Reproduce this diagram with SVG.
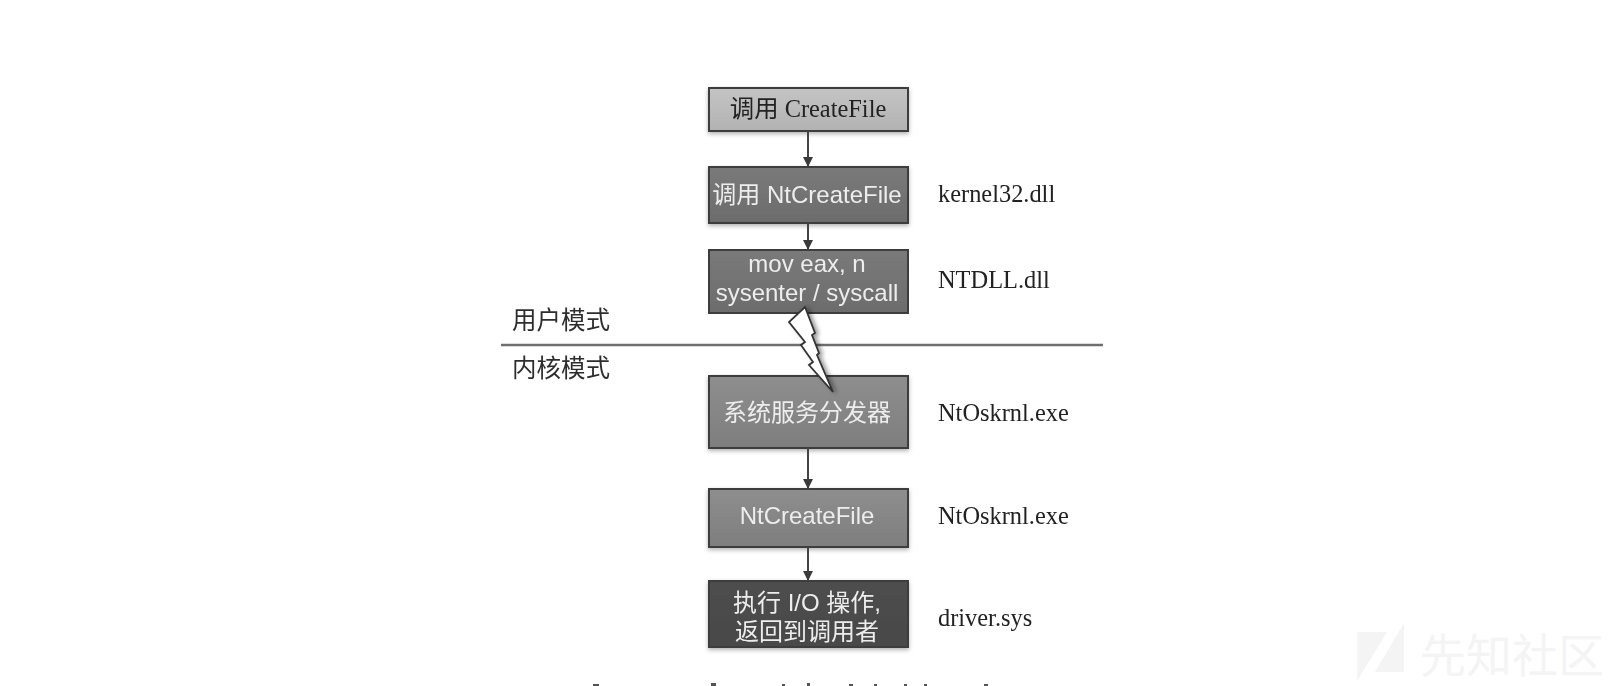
<svg xmlns="http://www.w3.org/2000/svg" width="1624" height="686" viewBox="0 0 1624 686">
<style>
.b{stroke:#3c3c3c;stroke-width:2}
.w{font-family:"Liberation Sans","Noto Sans CJK SC",sans-serif;font-size:24px;fill:#ededed;text-anchor:middle}
.k{font-family:"Liberation Serif","Noto Sans CJK SC",serif;font-size:24.4px;fill:#222}
.l{font-family:"Liberation Serif","Noto Sans CJK SC",serif;font-size:24.5px;fill:#2e2e2e}
.c{stroke:#444;stroke-width:2;fill:none;marker-end:url(#a)}
</style>
<defs>
<marker id="a" markerWidth="11" markerHeight="10" refX="10" refY="5" orient="auto" markerUnits="userSpaceOnUse"><path d="M0,0L10,5L0,10Z" fill="#3a3a3a"/></marker>
<linearGradient id="g1" x1="0" y1="0" x2="0" y2="1"><stop offset="0" stop-color="#c4c4c4"/><stop offset="1" stop-color="#b2b2b2"/></linearGradient>
<linearGradient id="g2" x1="0" y1="0" x2="0" y2="1"><stop offset="0" stop-color="#7a7a7a"/><stop offset="1" stop-color="#6c6c6c"/></linearGradient>
<linearGradient id="g3" x1="0" y1="0" x2="0" y2="1"><stop offset="0" stop-color="#8e8e8e"/><stop offset="1" stop-color="#7e7e7e"/></linearGradient>
<linearGradient id="g4" x1="0" y1="0" x2="0" y2="1"><stop offset="0" stop-color="#4e4e4e"/><stop offset="1" stop-color="#484848"/></linearGradient>
<filter id="s" x="-5%" y="-10%" width="110%" height="125%"><feDropShadow dx="0" dy="2" stdDeviation="2" flood-color="#000" flood-opacity=".3"/></filter>
<filter id="bs" x="-30%" y="-10%" width="170%" height="125%"><feDropShadow dx="3" dy="1" stdDeviation="2" flood-color="#000" flood-opacity=".4"/></filter>
<filter id="soft" x="0" y="0" width="100%" height="100%" filterUnits="userSpaceOnUse" primitiveUnits="userSpaceOnUse"><feGaussianBlur stdDeviation="0.55"/></filter>
</defs>
<rect width="1624" height="686" fill="#fff"/>
<g filter="url(#soft)">
<g id="divider"><line x1="501" y1="345" x2="1103" y2="345" stroke="#6e6e6e" stroke-width="2.4"/></g>
<g id="mode-labels"><text class="l" x="512" y="329">用户模式</text><text class="l" x="512" y="377">内核模式</text></g>
<g id="n1"><rect class="b" x="709" y="88" width="199" height="43" fill="url(#g1)" filter="url(#s)"/><text class="k" x="808" y="117" text-anchor="middle">调用 CreateFile</text></g>
<g id="n2"><rect class="b" x="709" y="167" width="199" height="56" fill="url(#g2)" filter="url(#s)"/><text class="w" x="807" y="203">调用 NtCreateFile</text></g>
<g id="n3"><rect class="b" x="709" y="250" width="199" height="63" fill="url(#g2)"/><text class="w" x="807" y="272">mov eax, n</text><text class="w" x="807" y="301">sysenter / syscall</text></g>
<g id="n4"><rect class="b" x="709" y="376" width="199" height="72" fill="url(#g3)" filter="url(#s)"/><text class="w" x="807" y="421">系统服务分发器</text></g>
<g id="n5"><rect class="b" x="709" y="489" width="199" height="58" fill="url(#g3)" filter="url(#s)"/><text class="w" x="807" y="524">NtCreateFile</text></g>
<g id="n6"><rect class="b" x="709" y="581" width="199" height="66" fill="url(#g4)" filter="url(#s)"/><text class="w" x="807" y="611">执行 I/O 操作,</text><text class="w" x="807" y="640">返回到调用者</text></g>
<g id="connectors"><line class="c" x1="808" y1="131" x2="808" y2="167"/><line class="c" x1="808" y1="223" x2="808" y2="250"/><line class="c" x1="808" y1="448" x2="808" y2="489"/><line class="c" x1="808" y1="547" x2="808" y2="581"/></g>
<g id="bolt"><path d="M805,307L815,333L812,335L819,353L817,355L833,392L809,365L813,362L801,345L805,342L789,322Z" fill="#fff" stroke="#333" stroke-width="1.8" filter="url(#bs)"/></g>
<g id="dll"><text class="k" x="938" y="202">kernel32.dll</text><text class="k" x="938" y="288">NTDLL.dll</text><text class="k" x="938" y="421">NtOskrnl.exe</text><text class="k" x="938" y="524">NtOskrnl.exe</text><text class="k" x="938" y="626">driver.sys</text></g>
<g id="clipped-caption-tops" fill="#555"><rect x="593" y="684" width="6" height="2"/><rect x="711" y="683" width="5" height="3"/><rect x="782" y="684" width="3" height="2"/><rect x="807" y="683" width="3" height="3"/><rect x="849" y="684" width="4" height="2"/><rect x="874" y="684" width="3" height="2"/><rect x="904" y="684" width="3" height="2"/><rect x="924" y="684" width="3" height="2"/><rect x="984" y="684" width="4" height="2"/></g>
</g>
<g id="watermark"><path d="M1357,632H1387L1357,681ZM1404,623L1375,672H1404Z" fill="#f4f4f4"/><text x="1420" y="672" font-family="Noto Sans CJK SC,sans-serif" font-size="46" fill="#f4f4f4">先知社区</text></g>
</svg>
